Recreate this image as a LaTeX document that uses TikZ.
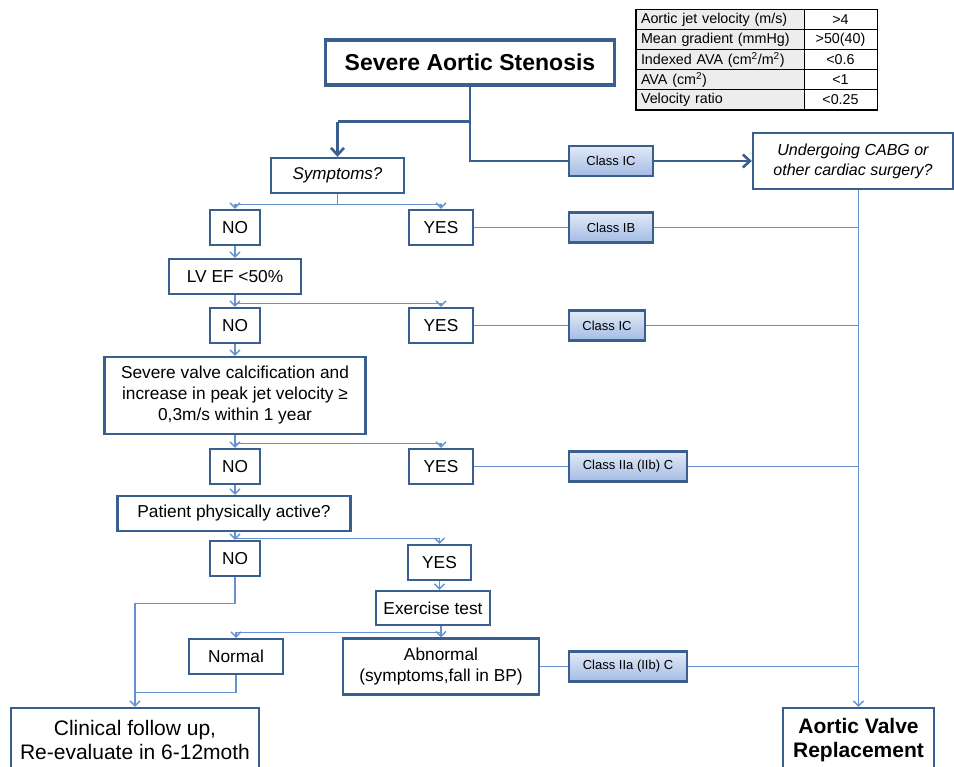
\documentclass[tikz,border=0pt]{standalone}
\usepackage{fontspec}
\setmainfont{Liberation Sans}
\usetikzlibrary{positioning,arrows.meta}

\definecolor{boxblue}{HTML}{3A5E8E}
\definecolor{linkblue}{HTML}{6592CE}
\definecolor{classtop}{HTML}{E2EAF7}
\definecolor{classbot}{HTML}{A3BBE4}
\definecolor{cellgray}{HTML}{EDEDED}

\tikzset{
	box/.style={draw=boxblue, line width=2.4pt, fill=white, inner sep=0pt, align=center, font=\fontsize{17.3}{21}\selectfont},
	class/.style={draw=boxblue, line width=2.2pt, top color=classtop, bottom color=classbot, inner sep=0pt, minimum height=30pt, font=\fontsize{13}{15}\selectfont},
	link/.style={draw=linkblue, line width=1.3pt, >={Straight Barb[length=5pt,width=10pt]}},
	mainlink/.style={draw=boxblue, line width=2.6pt, >={Straight Barb[length=7pt,width=13pt]}},
	cell/.style={draw=black, line width=1pt, inner ysep=0pt, inner xsep=5pt, minimum height=20pt, font=\fontsize{14.3}{16}\selectfont},
}

\begin{document}
\begin{tikzpicture}[x=1pt, y=-1pt]
		\useasboundingbox (0,0) rectangle (954,767);
		\clip (0,0) rectangle (954,767);
		% criteria table
		\draw (720,20) node [cell, fill=cellgray, text width=158pt, align=left] (t1l) {Aortic jet velocity (m/s)};
		\draw (840.5,20) node [cell, text width=63pt, align=center] (t1r) {>4};
		\draw (720,40) node [cell, fill=cellgray, text width=158pt, align=left] (t2l) {Mean gradient (mmHg)};
		\draw (840.5,40) node [cell, text width=63pt, align=center] (t2r) {>50(40)};
		\draw (720,60) node [cell, fill=cellgray, text width=158pt, align=left] (t3l) {Indexed AVA (cm\textsuperscript{2}/m\textsuperscript{2})};
		\draw (840.5,60) node [cell, text width=63pt, align=center] (t3r) {<0.6};
		\draw (720,80) node [cell, fill=cellgray, text width=158pt, align=left] (t4l) {AVA (cm\textsuperscript{2})};
		\draw (840.5,80) node [cell, text width=63pt, align=center] (t4r) {<1};
		\draw (720,100) node [cell, fill=cellgray, text width=158pt, align=left] (t5l) {Velocity ratio};
		\draw (840.5,100) node [cell, text width=63pt, align=center] (t5r) {<0.25};
		\draw[line width=1.6pt] (t1l.north west) rectangle (t5r.south east);

		% boxes
		\draw (470,62.5) node [box, line width=3.2pt, minimum width=289pt, minimum height=45pt, font=\bfseries\fontsize{23}{26}\selectfont] (title) {Severe Aortic Stenosis};
		\draw (337.5,175.5) node [box, minimum width=133pt, minimum height=35pt, font=\itshape\fontsize{17}{20}\selectfont] (symp) {Symptoms?};
		\draw (853,161) node [box, minimum width=200pt, minimum height=56pt, font=\itshape\fontsize{16}{20}\selectfont] (cabg) {Undergoing CABG or\\other cardiac surgery?};
		\draw (235,227.5) node [box, minimum width=50pt, minimum height=35pt] (no1) {NO};
		\draw (441,227.5) node [box, minimum width=64pt, minimum height=35pt] (yes1) {YES};
		\draw (235,276.5) node [box, minimum width=132pt, minimum height=35pt] (lvef) {LV EF <50\%};
		\draw (235,325.5) node [box, minimum width=50pt, minimum height=35pt] (no2) {NO};
		\draw (441,325.5) node [box, minimum width=64pt, minimum height=35pt] (yes2) {YES};
		\draw (235,395.5) node [box, minimum width=261pt, minimum height=77pt] (calc) {Severe valve calcification and\\increase in peak jet velocity ≥\\0,3m/s within 1 year};
		\draw (235,466.5) node [box, minimum width=50pt, minimum height=35pt] (no3) {NO};
		\draw (441,466.5) node [box, minimum width=64pt, minimum height=35pt] (yes3) {YES};
		\draw (234,513.5) node [box, minimum width=233pt, minimum height=35pt] (active) {Patient physically active?};
		\draw (235,558.5) node [box, minimum width=50pt, minimum height=35pt] (no4) {NO};
		\draw (439.5,562.5) node [box, minimum width=63pt, minimum height=35pt] (yes4) {YES};
		\draw (433,608) node [box, minimum width=114pt, minimum height=34pt] (exer) {Exercise test};
		\draw (236,656.5) node [box, minimum width=94pt, minimum height=35pt] (normal) {Normal};
		\draw (441,666.5) node [box, minimum width=196pt, minimum height=56pt] (abn) {Abnormal\\(symptoms,fall in BP)};
		\draw (135,740) node [box, minimum width=248pt, minimum height=64pt, font=\fontsize{21}{24}\selectfont] (clin) {Clinical follow up,\\Re-evaluate in 6-12moth};
		\draw (858.5,740) node [box, minimum width=151pt, minimum height=64pt, font=\bfseries\fontsize{21}{24}\selectfont] (avr) {Aortic Valve\\Replacement};

		% class labels
		\draw (611,161) node [class, minimum width=84pt] (c1) {Class IC};
		\draw (611,227.5) node [class, minimum width=84pt] (c2) {Class IB};
		\draw (607,325.5) node [class, minimum width=76pt] (c3) {Class IC};
		\draw (628,466.5) node [class, minimum width=118pt] (c4) {Class IIa (IIb) C};
		\draw (628,666.5) node [class, minimum width=118pt] (c5) {Class IIa (IIb) C};

		% junction points
		\path (title.south) ++(0,35) coordinate (j0);
		\path (symp.south) ++(0,10) coordinate (s1);
		\path (lvef.south) ++(0,8) coordinate (s2);
		\path (calc.south) ++(0,8) coordinate (s3);
		\path (active.south) ++(0,6) coordinate (s4);
		\path (exer.south -| abn.north) coordinate (e0);
		\path (e0) ++(0,6) coordinate (e1);
		\path (no4.south) ++(0,26) coordinate (n1);
		\path (normal.south) ++(0,17) coordinate (n2);
		\path (j0 -| symp.north) coordinate (j1);

		% connectors
		\draw[mainlink] (title.south) -- (j0) -- (j1);
		\draw[mainlink,->] (j1) -- (symp.north);
		\draw[mainlink] (j0) |- (c1.west);
		\draw[mainlink,->] (c1.east) -- (cabg.west);

		\draw[link] (symp.south) -- (s1);
		\draw[link,->] (s1) -| (no1.north);
		\draw[link,->] (s1) -| (yes1.north);
		\draw[link,->] (no1) -- (lvef);
		\draw[link,->] (lvef) -- (no2);
		\draw[link,->] (s2) -| (yes2.north);
		\draw[link,->] (no2) -- (calc);
		\draw[link,->] (calc) -- (no3);
		\draw[link,->] (s3) -| (yes3.north);
		\draw[link,->] (no3) -- (active.north -| no3.south);
		\draw[link,->] (active.south -| no4.north) -- (no4);
		\draw[link,->] (s4 -| no4.north) -| (yes4.north);
		\draw[link,->] (yes4.south) -- (yes4.south |- exer.north);
		\draw[link,->] (e0) -- (abn.north);
		\draw[link,->] (e1) -| (normal.north);
		\draw[link,->] (no4.south) -- (n1) -| (clin.north);
		\draw[link] (normal.south) -- (n2) -- (n2 -| clin.north);

		\draw[link] (yes1) -- (c2) -- (c2 -| avr.north);
		\draw[link] (yes2) -- (c3) -- (c3 -| avr.north);
		\draw[link] (yes3) -- (c4) -- (c4 -| avr.north);
		\draw[link] (abn) -- (c5) -- (c5 -| avr.north);
		\draw[link,->] (cabg.south -| avr.north) -- (avr.north);
	\end{tikzpicture}
\end{document}
